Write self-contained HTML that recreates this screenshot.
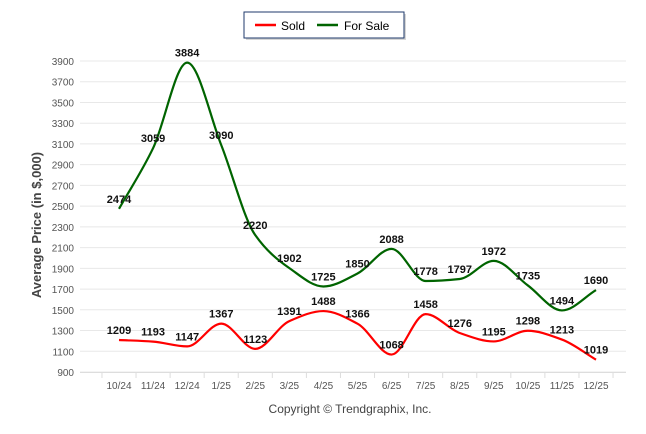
<!DOCTYPE html>
<html><head><meta charset="utf-8"><style>
body{margin:0;background:#fff;font-family:"Liberation Sans",sans-serif}
svg{display:block}
</style></head><body>
<svg id="c" width="646" height="434">
<g>
<rect x="246" y="14" width="160" height="26" fill="#bbb" opacity="0.6"/>
<rect x="244" y="12" width="160" height="26" fill="#fff" stroke="#1f3a6b" stroke-width="1"/>
<line x1="255" y1="25" x2="276" y2="25" stroke="#f00" stroke-width="2.5"/>
<text x="281" y="30" font-size="12">Sold</text>
<line x1="317" y1="25" x2="338" y2="25" stroke="#006400" stroke-width="2.5"/>
<text x="344" y="30" font-size="12">For Sale</text>
</g>
<text transform="translate(41,225) rotate(-90)" text-anchor="middle" font-size="13" font-weight="bold" fill="#444">Average Price (in $,000)</text>
<text x="350" y="413" text-anchor="middle" font-size="12" fill="#444">Copyright © Trendgraphix, Inc.</text>
<g id="grid"></g><g id="axes"></g><g id="series"></g><g id="labels"></g>
</svg>
<script>
const categories=["10/24","11/24","12/24","1/25","2/25","3/25","4/25","5/25","6/25","7/25","8/25","9/25","10/25","11/25","12/25"];
const soldValues=[1209,1193,1147,1367,1123,1391,1488,1366,1068,1458,1276,1195,1298,1213,1019];
const forSaleValues=[2474,3059,3884,3090,2220,1902,1725,1850,2088,1778,1797,1972,1735,1494,1690];
const yTicks=[900,1100,1300,1500,1700,1900,2100,2300,2500,2700,2900,3100,3300,3500,3700,3900];
const NS="http://www.w3.org/2000/svg";
const L=80,R=626,T=61,B=372,yMin=900,yMax=3900;
const x0=119,dx=(596-119)/14;
function xs(i){return x0+i*dx;}
function ys(v){return B-(v-yMin)/(yMax-yMin)*(B-T);}
function mk(tag,attrs,parent){const e=document.createElementNS(NS,tag);for(const k in attrs)e.setAttribute(k,attrs[k]);parent.appendChild(e);return e;}
const grid=document.getElementById('grid'),axes=document.getElementById('axes');
yTicks.forEach(v=>{
 const g=mk('line',{x1:L,x2:R,y1:ys(v),y2:ys(v),stroke:'#e8e8e8','stroke-width':1},grid);
 
 
 const t=mk('text',{x:L-6,y:ys(v)+4,'text-anchor':'end','font-size':10,fill:'#555'},axes);
 t.textContent=v;
 
 
});
const ax=mk('line',{x1:L,x2:R,y1:B+0.5,y2:B+0.5,stroke:'#ddd'},axes);


for(let i=0;i<=15;i++){const tx=x0-dx/2+i*dx;const tk=mk('line',{x1:tx,x2:tx,y1:B,y2:B+6,stroke:'#ddd'},axes);
 
 }
categories.forEach((c,i)=>{
 const t=mk('text',{x:xs(i),y:B+17,'text-anchor':'middle','font-size':10,fill:'#555'},axes);
 t.textContent=c;
 
 
});
function monotone(pts){
 const n=pts.length,d=[],m=[];
 for(let i=0;i<n-1;i++)d.push((pts[i+1][1]-pts[i][1])/(pts[i+1][0]-pts[i][0]));
 for(let i=0;i<n;i++){
  if(i===0)m.push(d[0]);else if(i===n-1)m.push(d[n-2]);
  else m.push(d[i-1]*d[i]<=0?0:(2/(1/d[i-1]+1/d[i])));
 }
 let p=`M${pts[0][0]},${pts[0][1]}`;
 for(let i=0;i<n-1;i++){const h=(pts[i+1][0]-pts[i][0])/3;
  p+=`C${pts[i][0]+h},${pts[i][1]+m[i]*h} ${pts[i+1][0]-h},${pts[i+1][1]-m[i+1]*h} ${pts[i+1][0]},${pts[i+1][1]}`;}
 return p;
}
const series=document.getElementById('series'),labels=document.getElementById('labels');
function draw(vals,color,name){
 const pts=vals.map((v,i)=>[xs(i),ys(v)]);
 const p=mk('path',{d:monotone(pts),fill:'none',stroke:color,'stroke-width':2.2},series);
 
 
 vals.forEach((v,i)=>{
  const t=mk('text',{x:xs(i),y:ys(v)-6,'text-anchor':'middle','font-size':11,'font-weight':'bold',fill:'#111'},labels);
  t.textContent=v;
  
  
 });
}
draw(soldValues,'#f00','sold');
draw(forSaleValues,'#006400','for-sale');
</script>
</body></html>
